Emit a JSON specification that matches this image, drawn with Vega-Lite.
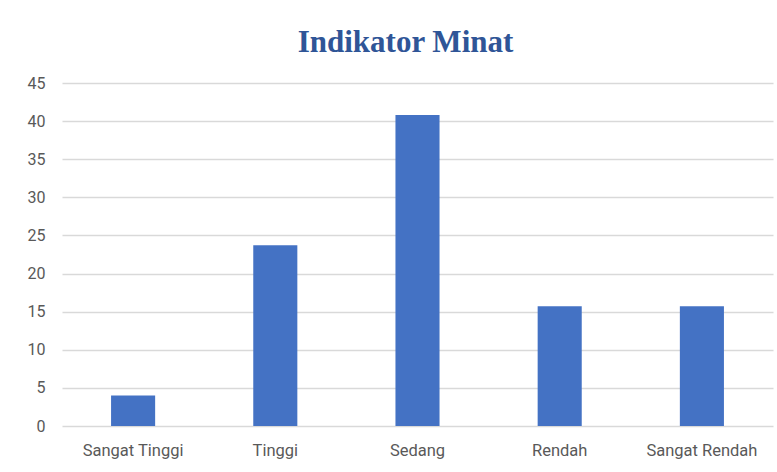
{
  "$schema": "https://vega.github.io/schema/vega-lite/v6.json",
  "autosize": "none",
  "width": 711,
  "height": 343,
  "padding": {"left": 62, "top": 83, "right": 4, "bottom": 46},
  "background": "white",
  "title": {
    "text": "Indikator Minat",
    "font": "Liberation Serif",
    "fontSize": 31,
    "fontWeight": "bold",
    "color": "#2F5597",
    "anchor": "middle",
    "dx": -12,
    "dy": 39,
    "baseline": "alphabetic",
    "offset": 31
  },
  "data": {
    "values": [
      {"kategori": "Sangat Tinggi", "nilai": 4},
      {"kategori": "Tinggi", "nilai": 23.7},
      {"kategori": "Sedang", "nilai": 40.8},
      {"kategori": "Rendah", "nilai": 15.7},
      {"kategori": "Sangat Rendah", "nilai": 15.7}
    ]
  },
  "mark": {"type": "bar", "color": "#4472C4"},
  "encoding": {
    "x": {
      "field": "kategori",
      "type": "nominal",
      "sort": null,
      "scale": {"paddingInner": 0.69, "paddingOuter": 0.345},
      "axis": {
        "title": null,
        "labelAngle": 0,
        "ticks": false,
        "domain": false,
        "labelPadding": 16,
        "labelFont": "Roboto",
        "labelFontSize": 16.5,
        "labelColor": "#595959"
      }
    },
    "y": {
      "field": "nilai",
      "type": "quantitative",
      "scale": {"domain": [0, 45], "nice": false},
      "axis": {
        "title": null,
        "values": [0, 5, 10, 15, 20, 25, 30, 35, 40, 45],
        "ticks": false,
        "domain": false,
        "labelPadding": 17,
        "labelFont": "Roboto",
        "labelFontSize": 16,
        "labelColor": "#595959",
        "gridColor": "#D9D9D9",
        "gridWidth": 1.5
      }
    }
  },
  "config": {"view": {"stroke": null}}
}
